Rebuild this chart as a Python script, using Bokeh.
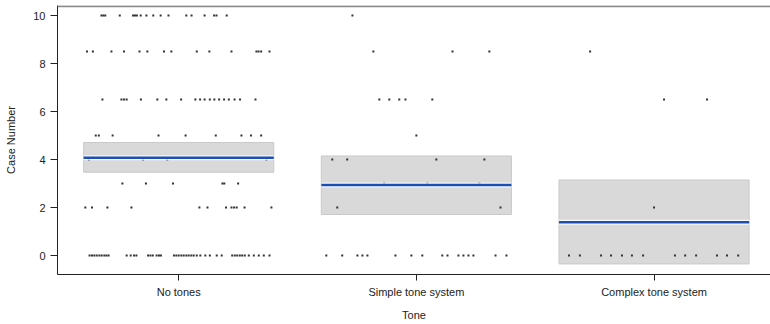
from bokeh.plotting import figure
from bokeh.models import FixedTicker, ColumnDataSource, Span
from bokeh.embed import file_html
from bokeh.resources import INLINE

# ---- data ----
categories = ["No tones", "Simple tone system", "Complex tone system"]
group_pos = [1, 2, 3]
means = [4.08, 2.94, 1.39]
ci_low = [3.47, 1.71, -0.35]
ci_high = [4.71, 4.15, 3.15]
y_ticks = [0, 2, 4, 6, 8, 10]

no_tones_vals = ([10] * 18 + [8.5] * 15 + [6.5] * 19 + [5] * 9 + [4] * 4 + [3] * 6 + [2] * 12 + [0] * 45)
no_tones_jit = [
    -0.325, -0.317, -0.309, -0.248, -0.192, -0.184, -0.176, -0.160, -0.136, -0.107, -0.076, -0.043, 0.032, 0.054, 0.109, 0.149, 0.159, 0.202,
    -0.386, -0.361, -0.283, -0.230, -0.165, -0.132, -0.062, -0.031, 0.076, 0.129, 0.222, 0.327, 0.336, 0.347, 0.382,
    -0.321, -0.241, -0.230, -0.219, -0.159, -0.090, -0.052, 0.010, 0.070, 0.090, 0.109, 0.131, 0.150, 0.170, 0.191, 0.211, 0.235, 0.258, 0.323,
    -0.349, -0.336, -0.278, -0.085, 0.029, 0.156, 0.264, 0.304, 0.347,
    -0.378, -0.150, -0.048, 0.369,
    -0.237, -0.138, -0.024, 0.184, 0.192, 0.250,
    -0.393, -0.365, -0.300, -0.199, 0.087, 0.121, 0.199, 0.222, 0.233, 0.244, 0.277, 0.390,
    -0.375, -0.365, -0.355, -0.345, -0.334, -0.324, -0.313, -0.304, -0.295, -0.219, -0.202, -0.188, -0.178,
    -0.129, -0.119, -0.109, -0.093, -0.083, -0.075, -0.020, -0.010, 0.000, 0.011, 0.021, 0.032, 0.042, 0.053,
    0.063, 0.076, 0.091, 0.112, 0.131, 0.160, 0.181, 0.225, 0.236, 0.246, 0.257, 0.267, 0.278, 0.295, 0.316,
    0.337, 0.358, 0.382,
]

simple_vals = ([10] * 1 + [8.5] * 3 + [6.5] * 5 + [5] * 1 + [4] * 4 + [3] * 3 + [2] * 2 + [0] * 16)
simple_jit = [
    -0.269,
    -0.181, 0.152, 0.307,
    -0.156, -0.114, -0.072, -0.046, 0.067,
    0.0,
    -0.354, -0.291, 0.084, 0.286,
    -0.135, 0.046, 0.265,
    -0.333, 0.354,
    -0.379, -0.312, -0.248, -0.227, -0.206, -0.088, -0.021, 0.025, 0.109, 0.131, 0.177, 0.198, 0.219, 0.240, 0.333, 0.379,
]

complex_vals = ([8.5] * 1 + [6.5] * 2 + [2] * 1 + [0] * 13)
complex_jit = [
    -0.269,
    0.042, 0.223,
    0.0,
    -0.358, -0.312, -0.223, -0.181, -0.135, -0.093, -0.046, 0.088, 0.131, 0.177, 0.265, 0.307, 0.354,
]

# ---- figure ----
FONT = "Liberation Sans"
Y_TOP = 10.42
p = figure(width=770, height=324, x_range=(0.49, 3.49), y_range=(-0.79, Y_TOP),
           output_backend="svg", toolbar_location=None,
           min_border_left=57, min_border_right=0, min_border_top=5, min_border_bottom=50)
p.background_fill_color = "white"
p.border_fill_color = "white"
p.grid.visible = False
p.outline_line_color = None

# top frame line (grey)
p.add_layout(Span(location=Y_TOP - 0.03, dimension="width", line_color="#8a8a8a", line_width=2))

# CI boxes
box_src = ColumnDataSource(dict(
    left=[g - 0.4 for g in group_pos], right=[g + 0.4 for g in group_pos],
    bottom=ci_low, top=ci_high))
p.quad(left="left", right="right", bottom="bottom", top="top", source=box_src,
       fill_color="#d9d9d9", line_color="#cacaca", line_width=1)

# points
xs, ys = [], []
for g, vals, jit in zip(group_pos, [no_tones_vals, simple_vals, complex_vals],
                        [no_tones_jit, simple_jit, complex_jit]):
    for v, j in zip(vals, jit):
        xs.append(g + j)
        ys.append(v)
p.scatter(xs, ys, marker="square", size=2, fill_color="#333333", line_color=None)

# mean lines
seg_src = ColumnDataSource(dict(
    x0=[g - 0.4 for g in group_pos], x1=[g + 0.4 for g in group_pos], y=means))
p.segment(x0="x0", y0="y", x1="x1", y1="y", source=seg_src, line_color="white",
          line_width=5, line_alpha=0.8)
p.segment(x0="x0", y0="y", x1="x1", y1="y", source=seg_src, line_color="#1b4fb4",
          line_width=2.5)

# axes
p.yaxis.ticker = FixedTicker(ticks=y_ticks)
p.xaxis.ticker = FixedTicker(ticks=group_pos)
p.xaxis.major_label_overrides = {g: c for g, c in zip(group_pos, categories)}
p.yaxis.axis_label = "Case Number"
p.xaxis.axis_label = "Tone"
for ax in (p.xaxis, p.yaxis):
    ax.axis_line_color = "#222222"
    ax.axis_line_width = 1
    ax.major_tick_line_color = "#222222"
    ax.minor_tick_line_color = None
    ax.major_tick_in = 0
    ax.major_label_text_font = FONT
    ax.major_label_text_font_size = "11px"
    ax.major_label_text_color = "#222222"
    ax.axis_label_text_font = FONT
    ax.axis_label_text_font_size = "11px"
    ax.axis_label_text_font_style = "normal"
    ax.axis_label_text_color = "#222222"
p.yaxis.major_tick_out = 7
p.yaxis.major_label_standoff = 5
p.yaxis.axis_label_standoff = 13
p.xaxis.major_tick_out = 6
p.xaxis.major_label_standoff = 5
p.xaxis.axis_label_standoff = 8

open("out.html", "w").write(file_html(p, INLINE))
